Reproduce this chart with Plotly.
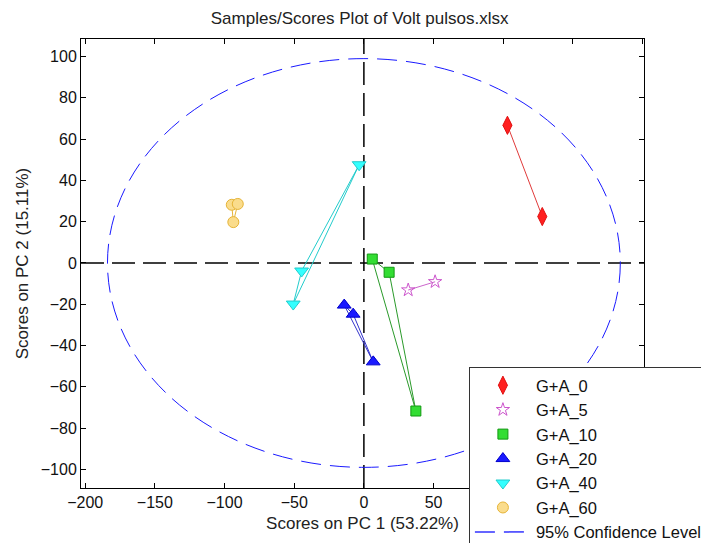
import plotly.graph_objects as go

# ---- data (PC1, PC2 scores) ----
ga0_x = [103.0, 128.0]
ga0_y = [66.7, 22.5]
ga5_x = [31.8, 51.1]
ga5_y = [-13.1, -9.1]
ga10_x = [6.0, 18.1, 37.3]
ga10_y = [1.9, -4.5, -71.7]
ga20_x = [-14.1, -7.7, 6.7]
ga20_y = [-20.4, -24.8, -47.9]
ga40_x = [-3.4, -44.7, -50.7]
ga40_y = [47.6, -3.9, -19.9]
ga60_x = [-94.8, -90.5, -93.7]
ga60_y = [28.2, 28.6, 19.8]

ellipse_semi_x = 184.0
ellipse_semi_y = 99.0

x_ticks = [-200, -150, -100, -50, 0, 50, 100, 150, 200]
y_ticks = [-100, -80, -60, -40, -20, 0, 20, 40, 60, 80, 100]

FONT = "Liberation Sans, Arial, sans-serif"


def closed(v):
    return list(v) + [v[0]] if len(v) > 2 else list(v)


series = [
    ("G+A_0", ga0_x, ga0_y, "diamond-tall", 13, "#ff2020", "#e01010", "#e03a3a"),
    ("G+A_5", ga5_x, ga5_y, "star-open", 10, "#cc55cc", "#cc55cc", "#cc66cc"),
    ("G+A_10", ga10_x, ga10_y, "square", 10, "#33dd33", "#119911", "#2a9a2a"),
    ("G+A_20", ga20_x, ga20_y, "triangle-up", 12, "#1a1aff", "#0000cc", "#3333cc"),
    ("G+A_40", ga40_x, ga40_y, "triangle-down", 12, "#33ffff", "#22cccc", "#22cccc"),
    ("G+A_60", ga60_x, ga60_y, "circle", 11, "#fadc8c", "#e6b437", "#e6b437"),
]

fig = go.Figure()
for name, xs, ys, sym, size, fill, edge, lcol in series:
    fig.add_trace(go.Scatter(
        x=closed(xs), y=closed(ys), mode="lines", showlegend=False,
        hoverinfo="skip", line=dict(color=lcol, width=1),
    ))
for name, xs, ys, sym, size, fill, edge, lcol in series:
    fig.add_trace(go.Scatter(
        x=xs, y=ys, name=name, mode="markers",
        marker=dict(symbol=sym, size=size, color=fill,
                    line=dict(color=edge, width=1)),
    ))

fig.add_trace(go.Scatter(
    x=[None], y=[None], name="95% Confidence Level", mode="lines",
    line=dict(color="#3333ff", width=1.5, dash="20px,9px"),
))

# confidence ellipse
fig.add_shape(type="circle", xref="x", yref="y",
              x0=-ellipse_semi_x, x1=ellipse_semi_x,
              y0=-ellipse_semi_y, y1=ellipse_semi_y,
              line=dict(color="#1a1aff", width=1, dash="20px,9px"),
              layer="below")
# zero lines
fig.add_shape(type="line", xref="x", yref="paper", x0=0, x1=0, y0=0, y1=1,
              line=dict(color="black", width=1.5, dash="23px,8px"), layer="below")
fig.add_shape(type="line", xref="paper", yref="y", x0=0, x1=1, y0=0, y1=0,
              line=dict(color="black", width=1.5, dash="23px,8px"), layer="below")

axis_common = dict(
    showgrid=False, zeroline=False, showline=True, linecolor="black",
    linewidth=1, mirror="ticks", ticks="inside", ticklen=5, tickcolor="black",
    tickfont=dict(family=FONT, size=16, color="#111"),
)

fig.update_layout(
    width=701, height=543,
    margin=dict(l=81, r=57, t=39, b=55, autoexpand=False),
    paper_bgcolor="white", plot_bgcolor="white",
    title=dict(text="Samples/Scores Plot of Volt pulsos.xlsx",
               font=dict(family=FONT, size=17, color="#222"),
               x=0.513, xanchor="center", y=0.967, yanchor="middle"),
    xaxis=dict(range=[-203, 201], tickvals=x_ticks,
               title=dict(text="Scores on PC 1 (53.22%)", standoff=6,
                          font=dict(family=FONT, size=17, color="#222")),
               **axis_common),
    yaxis=dict(range=[-109, 108.5], tickvals=y_ticks,
               title=dict(text="Scores on PC 2 (15.11%)", standoff=7,
                          font=dict(family=FONT, size=17, color="#222")),
               **axis_common),
    legend=dict(x=0.689, y=0.2695, xanchor="left", yanchor="top",
                bgcolor="white", bordercolor="#333", borderwidth=1,
                font=dict(family=FONT, size=16.5, color="#111"),
                itemwidth=56, tracegroupgap=0),
    showlegend=True,
)

fig.write_html("out.html")
